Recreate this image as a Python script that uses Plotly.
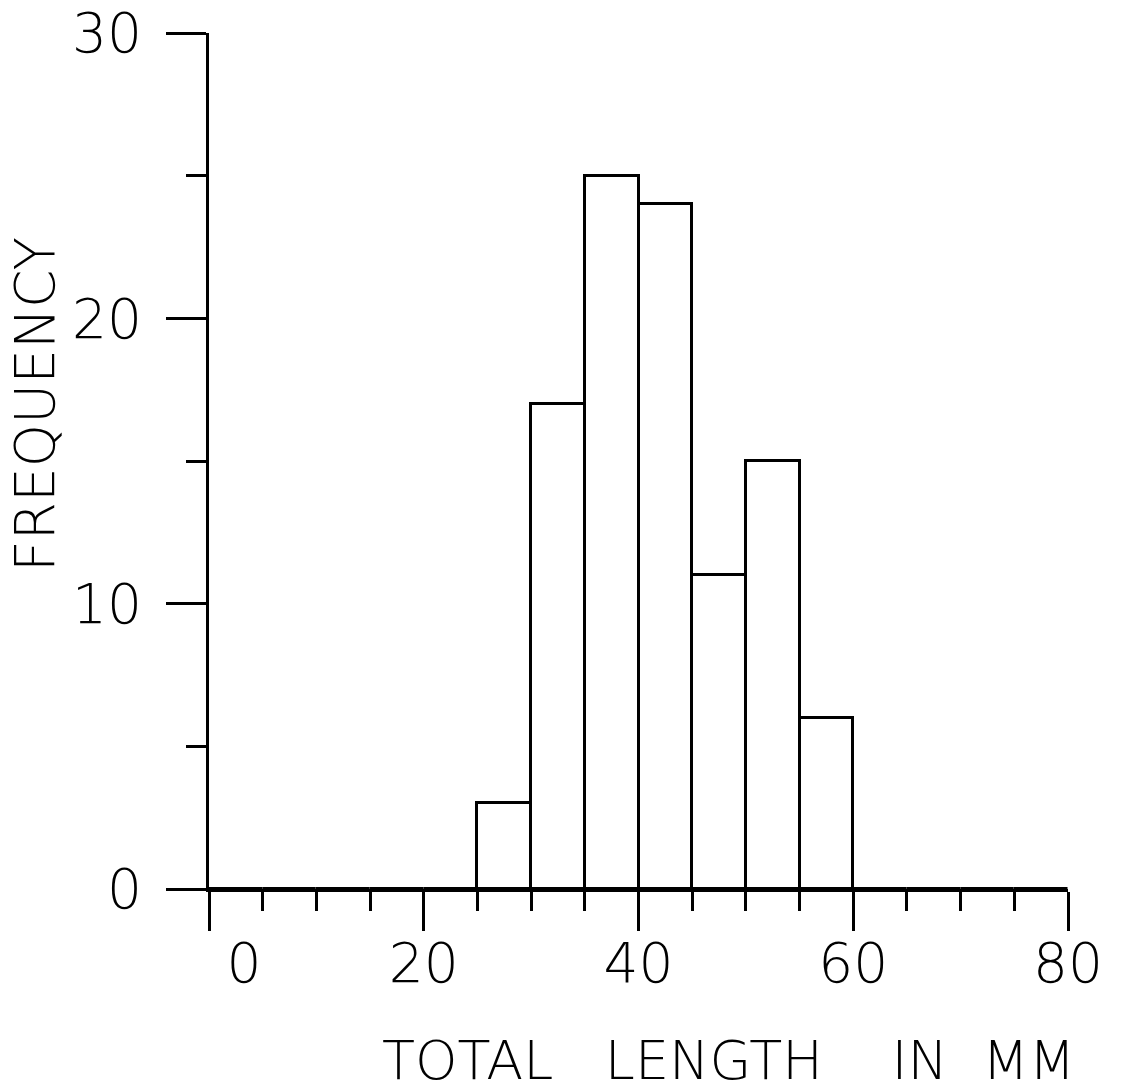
import plotly.graph_objects as go

# Histogram data (bin starts in mm, bin width 5 mm) and frequencies
bin_starts = [0, 5, 10, 15, 20, 25, 30, 35, 40, 45, 50, 55, 60, 65, 70, 75]
counts = [0, 0, 0, 0, 0, 3, 17, 25, 24, 11, 15, 6, 0, 0, 0, 0]
bin_width = 5

x_tickvals = [0, 20, 40, 60, 80]
x_ticktext = ["\u2007\u20070", "20", "40", "60", "80"]
y_tickvals = [0, 10, 20, 30]
y_ticktext = ["0", "10", "20", "30"]

x_title = "TOTAL\u00a0\u00a0\u00a0LENGTH\u00a0\u00a0\u00a0\u00a0IN\u00a0\u00a0MM"
y_title = "FREQUENCY"

FONT = "DejaVu Sans"
LW = 3

centers = [b + bin_width / 2 for b in bin_starts]

fig = go.Figure()
fig.add_trace(go.Bar(
    x=centers, y=counts, width=[bin_width] * len(counts),
    marker=dict(color="white", line=dict(color="black", width=LW)),
    showlegend=False, hoverinfo="skip",
))

# page body has an 8px margin, so the figure is sized/offset to compensate
fig.update_layout(
    width=1119, height=1082,
    margin=dict(l=201, r=59, t=25, b=201),
    paper_bgcolor="white", plot_bgcolor="white",
    font=dict(family=FONT, size=55, color="black", weight=200),
    bargap=0,
    xaxis=dict(
        range=[0, 80], showgrid=False, zeroline=False, automargin=False,
        showline=True, linecolor="black", linewidth=LW,
        ticks="outside", ticklen=39, tickwidth=LW, tickcolor="black",
        tickvals=x_tickvals, ticktext=x_ticktext,
        tickfont=dict(family=FONT, size=55, color="black", weight=200),
        ticklabelstandoff=-15, ticklabeloverflow="allow",
        minor=dict(dtick=5, ticks="outside", ticklen=19, tickwidth=LW, tickcolor="black", showgrid=False),
    ),
    yaxis=dict(
        range=[0, 30], showgrid=False, zeroline=False, automargin=False,
        showline=True, linecolor="black", linewidth=LW,
        ticks="outside", ticklen=40, tickwidth=LW, tickcolor="black",
        tickvals=y_tickvals, ticktext=y_ticktext,
        tickfont=dict(family=FONT, size=55, color="black", weight=200),
        ticklabelstandoff=13, ticklabeloverflow="allow",
        minor=dict(dtick=5, ticks="outside", ticklen=20, tickwidth=LW, tickcolor="black", showgrid=False),
    ),
    annotations=[
        dict(
            text=x_title, xref="paper", yref="paper", x=0.6045, y=-0.200,
            xanchor="center", yanchor="middle", showarrow=False,
            font=dict(family=FONT, size=54, color="black", weight=200),
        ),
        dict(
            text=y_title, xref="paper", yref="paper", x=-0.2026, y=0.5666,
            xanchor="center", yanchor="middle", showarrow=False, textangle=-90,
            font=dict(family=FONT, size=55, color="black", weight=200),
        ),
    ],
)

fig.write_html("out.html")
